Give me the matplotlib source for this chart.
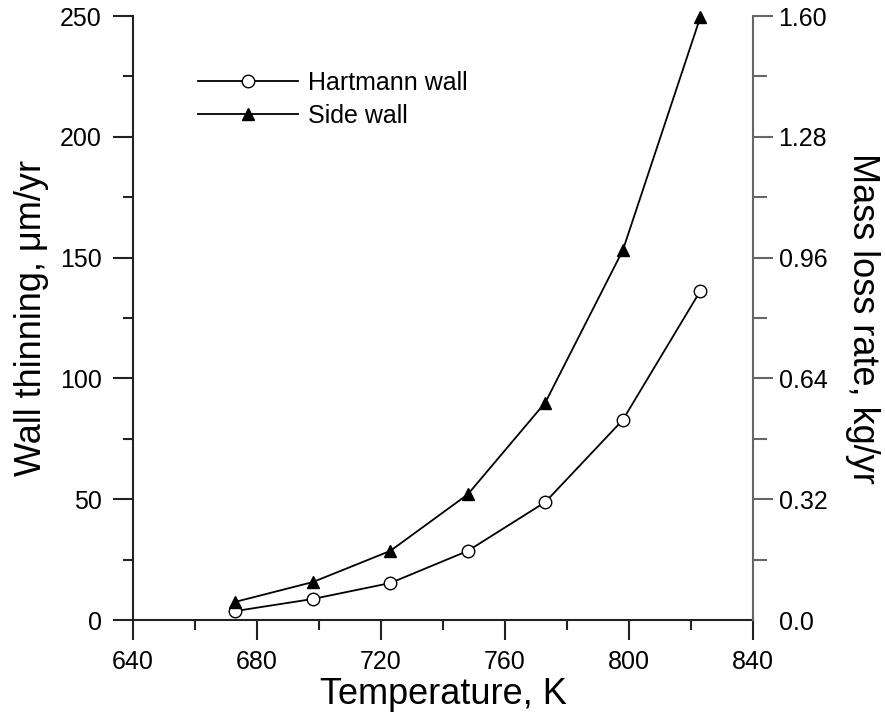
import matplotlib
matplotlib.use("Agg")
import matplotlib.pyplot as plt
from matplotlib.ticker import MultipleLocator, FixedLocator, FixedFormatter

plt.rcParams['font.family'] = ['Liberation Sans', 'DejaVu Sans']

temperature = [673, 698, 723, 748, 773, 798, 823]
hartmann_wall = [3.7, 8.7, 15.3, 28.6, 48.8, 82.8, 136.2]
side_wall = [7.5, 15.7, 28.6, 52.0, 90.0, 153.0, 249.5]

x_ticks = [640, 680, 720, 760, 800, 840]
left_ticks = [0, 50, 100, 150, 200, 250]
right_ticks = [0.0, 0.32, 0.64, 0.96, 1.28, 1.60]
right_labels = ["0.0", "0.32", "0.64", "0.96", "1.28", "1.60"]

fig = plt.figure(figsize=(8.85, 7.19), dpi=100)
ax = fig.add_axes([133/885, 99/719, 620/885, 604/719])

ax.plot(temperature, hartmann_wall, color='black', lw=1.3, marker='o', ms=9,
        mfc='white', mec='black', mew=1.0, label='Hartmann wall', clip_on=False, zorder=3)
ax.plot(temperature, side_wall, color='black', lw=1.3, marker='^', ms=9,
        mfc='black', mec='black', label='Side wall', clip_on=False, zorder=3)

ax.set_xlim(640, 840)
ax.set_ylim(0, 250)
ax.xaxis.set_major_locator(FixedLocator(x_ticks))
ax.xaxis.set_minor_locator(MultipleLocator(20))
ax.yaxis.set_major_locator(FixedLocator(left_ticks))
ax.yaxis.set_minor_locator(MultipleLocator(25))

for s in ['top', 'right']:
    ax.spines[s].set_visible(False)
for s in ['left', 'bottom']:
    ax.spines[s].set_linewidth(1.5)
    ax.spines[s].set_color('#222222')

ax.tick_params(which='major', direction='out', length=14.4, width=1.5, color='#222222',
               labelsize=18)
ax.tick_params(which='minor', direction='out', length=7.2, width=1.5, color='#222222')
ax.tick_params(axis='y', which='major', pad=8)
ax.tick_params(axis='x', which='major', pad=7)

ax.set_xlabel('Temperature, K', fontsize=26, labelpad=2)
ax.set_ylabel('Wall thinning, \u03bcm/yr', fontsize=26, labelpad=8)

ax2 = ax.twinx()
ax2.set_position(ax.get_position())
ax2.set_ylim(0, 1.6)
ax2.yaxis.set_major_locator(FixedLocator(right_ticks))
ax2.yaxis.set_major_formatter(FixedFormatter(right_labels))
ax2.yaxis.set_minor_locator(MultipleLocator(0.16))
for s in ['top', 'left', 'bottom']:
    ax2.spines[s].set_visible(False)
ax2.spines['right'].set_color('#666666')
ax2.spines['right'].set_linewidth(1.5)
ax2.tick_params(axis='y', which='major', direction='out', length=14.4, width=1.5,
                color='#666666', labelsize=18, pad=4)
ax2.tick_params(axis='y', which='minor', direction='out', length=10, width=1.5,
                color='#666666')
ax2.yaxis.get_major_ticks()[0].tick2line.set_visible(False)
ax2.set_ylabel('Mass loss rate, kg/yr', fontsize=26, rotation=270, labelpad=38)

ax.legend(loc='upper left', bbox_to_anchor=(198/885, 1 - 71/719),
          bbox_transform=fig.transFigure, frameon=False, fontsize=18,
          handlelength=4.0, handletextpad=0.4, labelspacing=0.36, borderpad=0,
          borderaxespad=0)

fig.savefig('out.png', dpi=100)
